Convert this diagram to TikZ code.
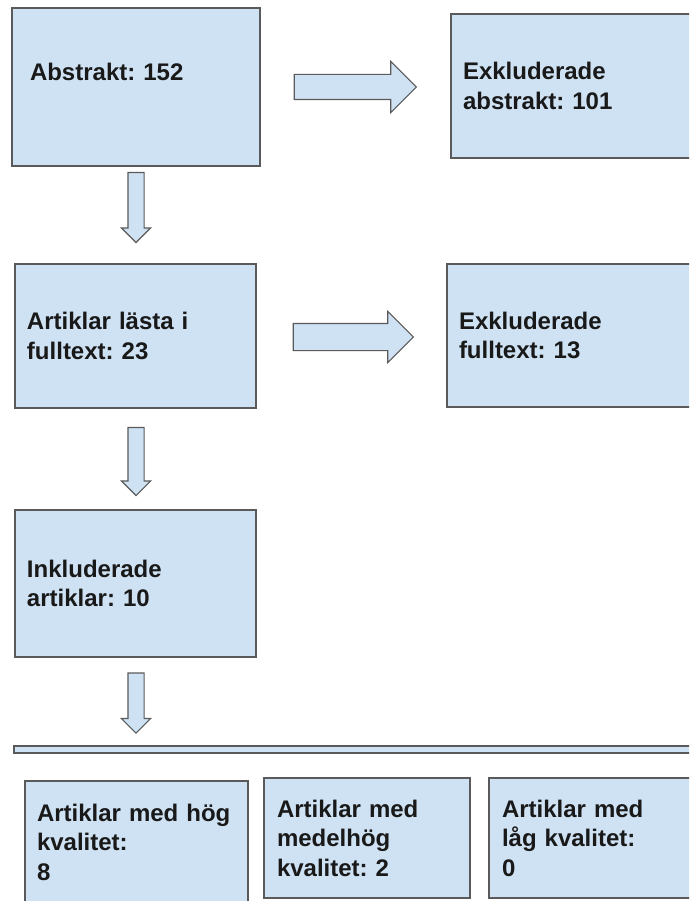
\documentclass[tikz,border=0pt]{standalone}
\usepackage{fontspec}
\setmainfont{Liberation Sans}
\usetikzlibrary{shapes.arrows,positioning}
\definecolor{boxblue}{RGB}{207,226,243}
\definecolor{boxline}{RGB}{90,90,90}
\frenchspacing
\tikzset{
  box/.style   ={rectangle,draw=boxline,fill=boxblue,line width=1.3pt,
                 inner xsep=12pt,inner ysep=0pt,align=left,text=black!90,
                 font=\bfseries\fontsize{24}{29.5}\selectfont},
  bar/.style   ={rectangle,draw=boxline,fill=boxblue,line width=1.2pt,
                 inner sep=0pt,minimum height=7pt},
  arwR/.style  ={single arrow,draw=boxline,fill=boxblue,line width=1.1pt,
                 inner xsep=0pt,inner ysep=12pt,single arrow head extend=13pt},
  arwD/.style  ={single arrow,draw=boxline,fill=boxblue,line width=1.1pt,
                 inner xsep=0pt,inner ysep=7.5pt,single arrow head extend=6.5pt,
                 rotate=-90},
}

\begin{document}
\begin{tikzpicture}[x=1pt, y=-1pt]

\path[use as bounding box, clip] (0,0) rectangle (689,901);

%% ---------------- boxes ----------------
\node[box,inner xsep=18pt,text width=212pt,minimum width=248pt,minimum height=158pt]
  (abs) at (136,87) {Abstrakt: 152\\\mbox{}};
\node[box,text width=256pt,minimum width=280pt,minimum height=144pt]
  (exabs) at (591,86) {Exkluderade\\abstrakt: 101};

\node[box,text width=217pt,minimum width=241pt,minimum height=144pt]
  (full) at (135.5,336) {Artiklar l\"asta i\\fulltext: 23};
\node[box,text width=256pt,minimum width=280pt,minimum height=143pt]
  (exfull) at (587,335.5) {Exkluderade\\fulltext: 13};

\node[box,text width=217pt,minimum width=241pt,minimum height=147pt]
  (incl) at (135.5,583.5) {Inkluderade\\artiklar: 10};

%% split bar and the three quality groups
\node[bar,minimum width=700pt] (split) at (364,749.5) {};

\node[box,text width=199pt,minimum width=223pt,minimum height=122pt]
  (hog) at (136.5,842) {Artiklar med h\"og\\kvalitet:\\8};
\node[box,inner xsep=13pt,text width=180pt,minimum width=206pt,minimum height=120pt]
  (medel) at (367,838) {Artiklar med\\medelh\"og\\kvalitet: 2};
\node[box,inner xsep=13pt,text width=205pt,minimum width=231pt,minimum height=120pt]
  (lag) at (604.5,838) {Artiklar med\\l\aa g kvalitet:\\0};

%% ---------------- block arrows ----------------
\node[arwR,minimum height=122pt] (a1) at (349,87) {};
\node[arwR,minimum height=120pt,inner ysep=13pt,single arrow head extend=12pt]
  (a2) at (346.5,337) {};

\node[arwD,minimum height=70pt] (d1) at (136,203.5) {};
\node[arwD,minimum height=68pt] (d2) at (136,457.5) {};
\node[arwD,minimum height=60pt] (d3) at (136,699) {};

\end{tikzpicture}
\end{document}
